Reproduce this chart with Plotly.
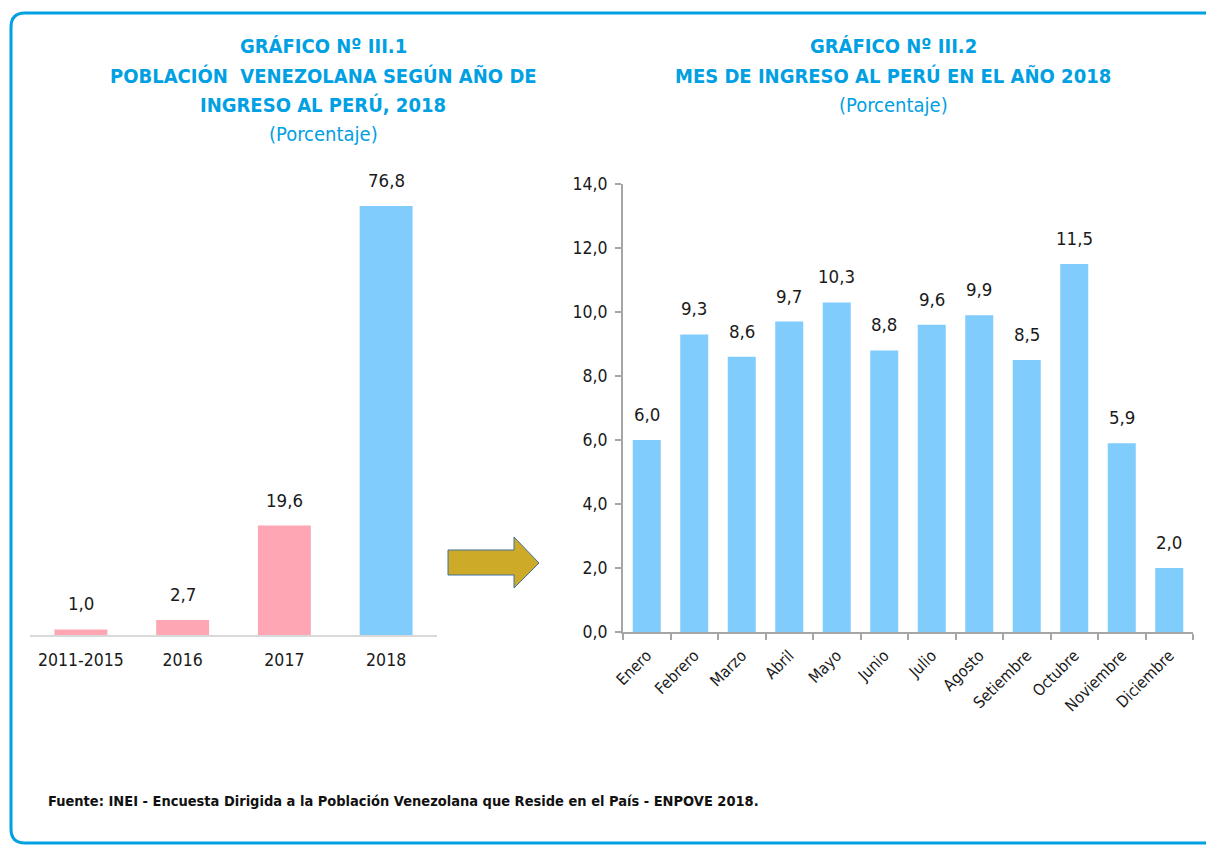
import plotly.graph_objects as go

W, H = 1206, 845

years = ["2011-2015", "2016", "2017", "2018"]
year_vals = [1.0, 2.7, 19.6, 76.8]
year_colors = ["#FFA6B4", "#FFA6B4", "#FFA6B4", "#80CCFD"]

months = ["Enero", "Febrero", "Marzo", "Abril", "Mayo", "Junio", "Julio",
          "Agosto", "Setiembre", "Octubre", "Noviembre", "Diciembre"]
month_vals = [6.0, 9.3, 8.6, 9.7, 10.3, 8.8, 9.6, 9.9, 8.5, 11.5, 5.9, 2.0]

FONT = "'Liberation Sans Narrow', 'Arial Narrow', 'DejaVu Sans Condensed', sans-serif"
TITLE_BLUE = "#00A0E3"
AXIS_GRAY = "#A6A6A6"
TXT = "#1a1a1a"


def px(x):
    return x / W


def py(y):
    return 1 - y / H


fig = go.Figure()

fig.add_trace(go.Bar(
    x=years, y=year_vals, marker=dict(color=year_colors, line=dict(width=0)),
    width=0.52, xaxis="x", yaxis="y", showlegend=False, hoverinfo="skip"))

fig.add_trace(go.Bar(
    x=months, y=month_vals, marker=dict(color="#80CCFD", line=dict(width=0)),
    width=0.59, xaxis="x2", yaxis="y2", showlegend=False, hoverinfo="skip"))

annotations = []
# category axes: annotation x given as category index
for i, v in enumerate(year_vals):
    annotations.append(dict(x=i, y=v, xref="x", yref="y", text=f"{v:.1f}".replace(".", ","),
                            showarrow=False, yanchor="bottom", yshift=13,
                            font=dict(family=FONT, size=18.5, color=TXT)))
for i, v in enumerate(month_vals):
    annotations.append(dict(x=i, y=v, xref="x2", yref="y2", text=f"{v:.1f}".replace(".", ","),
                            showarrow=False, yanchor="bottom", yshift=13,
                            font=dict(family=FONT, size=18.5, color=TXT)))

# Titles
left_title = [("<b>GRÁFICO Nº III.1</b>", 46), ("<b>POBLACIÓN  VENEZOLANA SEGÚN AÑO DE</b>", 76),
              ("<b>INGRESO AL PERÚ, 2018</b>", 105), ("(Porcentaje)", 134)]
right_title = [("<b>GRÁFICO Nº III.2</b>", 46), ("<b>MES DE INGRESO AL PERÚ EN EL AÑO 2018</b>", 76),
               ("(Porcentaje)", 105)]
for txt, yy in left_title:
    annotations.append(dict(x=px(323), y=py(yy), xref="paper", yref="paper", text=txt,
                            showarrow=False, xanchor="center", yanchor="middle",
                            font=dict(family=FONT, size=20, color=TITLE_BLUE)))
for txt, yy in right_title:
    annotations.append(dict(x=px(893), y=py(yy), xref="paper", yref="paper", text=txt,
                            showarrow=False, xanchor="center", yanchor="middle",
                            font=dict(family=FONT, size=20, color=TITLE_BLUE)))

annotations.append(dict(
    x=px(46), y=py(801), xref="paper", yref="paper",
    text="<b>Fuente: INEI - Encuesta Dirigida a la Población Venezolana que Reside en el País - ENPOVE 2018.</b>",
    showarrow=False, xanchor="left", yanchor="middle",
    font=dict(family=FONT, size=14.5, color="#111111")))

# Arrow shape
arrow_pts = [(448, 550), (514, 550), (514, 537), (539, 563), (514, 588), (514, 575), (448, 575)]
arrow_path = "M " + " L ".join(f"{px(a)},{py(b)}" for a, b in arrow_pts) + " Z"

# Rounded border
r = 14
x0, y0, x1, y1 = 11, 13, 1230, 843
border_path = (f"M {px(x0)},{py(y0 + r)} Q {px(x0)},{py(y0)} {px(x0 + r)},{py(y0)} "
               f"L {px(x1)},{py(y0)} L {px(x1)},{py(y1)} L {px(x0 + r)},{py(y1)} "
               f"Q {px(x0)},{py(y1)} {px(x0)},{py(y1 - r)} Z")

shapes = [
    dict(type="path", path=border_path, xref="paper", yref="paper",
         line=dict(color=TITLE_BLUE, width=3), fillcolor="rgba(0,0,0,0)", layer="below"),
    dict(type="path", path=arrow_path, xref="paper", yref="paper",
         line=dict(color="#41719C", width=1), fillcolor="#CDAA28"),
]

fig.update_layout(
    width=W, height=H,
    margin=dict(l=0, r=0, t=0, b=0),
    paper_bgcolor="white", plot_bgcolor="white",
    separators=",.",
    font=dict(family=FONT, size=18, color=TXT),
    annotations=annotations,
    shapes=shapes,
    xaxis=dict(type="category", domain=[px(30), px(437)], range=[-0.5, len(years) - 0.5],
               showline=True, linecolor="#D9D9D9",
               linewidth=2, ticks="outside", ticklen=8, tickcolor="rgba(0,0,0,0)",
               showgrid=False, zeroline=False, automargin=False,
               tickfont=dict(family=FONT, size=17.5, color=TXT)),
    yaxis=dict(domain=[py(635), py(180)], range=[0, 81.45], visible=False,
               showgrid=False, zeroline=False, automargin=False),
    xaxis2=dict(type="category", domain=[px(623), px(1193)], range=[-0.5, len(months) - 0.5],
                anchor="y2", showline=True,
                linecolor=AXIS_GRAY, linewidth=2, ticks="outside", tickson="boundaries",
                ticklen=6, tickcolor=AXIS_GRAY, tickwidth=1.5, tickangle=-45,
                ticklabelstandoff=6,
                showgrid=False, zeroline=False, automargin=False,
                tickfont=dict(family=FONT, size=16, color=TXT)),
    yaxis2=dict(domain=[py(632), py(184)], anchor="x2", range=[0, 14], dtick=2, tick0=0,
                tickformat=".1f", showline=True, linecolor=AXIS_GRAY, linewidth=2,
                ticks="outside", ticklen=6, tickcolor=AXIS_GRAY, tickwidth=1.5,
                ticklabelstandoff=4,
                showgrid=False, zeroline=False, automargin=False,
                tickfont=dict(family=FONT, size=17.5, color=TXT)),
)

fig.write_html("out.html", config={"displayModeBar": False},
               post_script="document.body.style.margin='0';document.body.style.overflow='hidden';")
